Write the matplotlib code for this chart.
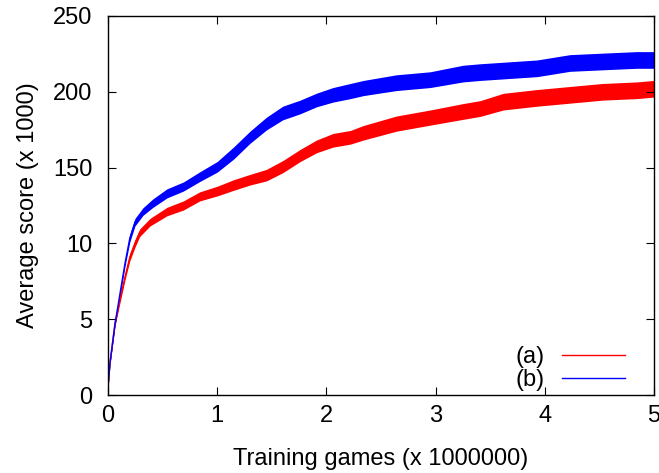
import matplotlib
matplotlib.use("Agg")
import matplotlib.pyplot as plt

plt.rcParams['font.family'] = ['Liberation Sans', 'DejaVu Sans']

# Series (a): red
games_a = [0, 0.018, 0.064, 0.11, 0.156, 0.2, 0.247, 0.29, 0.385, 0.54, 0.69, 0.84,
           1.0, 1.15, 1.30, 1.45, 1.6, 1.76, 1.91, 2.06, 2.22, 2.34, 2.64, 2.95,
           3.25, 3.41, 3.62, 3.93, 4.23, 4.53, 4.84, 5.0]
score_a = [5, 21, 47, 63, 78, 91, 100, 107, 114, 121, 125, 131,
           134.5, 138.5, 142, 145, 150.6, 158, 164, 168, 170, 173, 179, 183,
           187, 189, 193.5, 196, 198, 200, 201, 202]
spread_a = [0.5, 1, 1.5, 2, 2, 2.5, 2.5, 2.5, 2.5, 2.8, 3, 3,
            3.2, 3.5, 3.5, 3.8, 4, 4, 4.2, 4.5, 4.5, 4.8, 5, 5,
            5.2, 5.2, 5.5, 5.5, 5.5, 5.5, 5.5, 5.5]

# Series (b): blue
games_b = [0, 0.018, 0.064, 0.11, 0.156, 0.2, 0.247, 0.32, 0.41, 0.54, 0.69, 0.84,
           1.0, 1.15, 1.30, 1.45, 1.6, 1.76, 1.91, 2.06, 2.22, 2.34, 2.64, 2.95,
           3.25, 3.41, 3.62, 3.93, 4.23, 4.53, 4.84, 5.0]
score_b = [5, 21, 47, 67, 87, 103.5, 114, 121, 126.5, 133, 137.5, 144,
           150.5, 159.6, 170, 179, 186, 190, 194.6, 198, 200.5, 202.5, 206, 208,
           212, 213, 214, 215.5, 219, 220, 221, 221]
spread_b = [0.5, 1, 1.5, 2, 2, 2.5, 2.5, 2.5, 2.8, 3, 3, 3.2,
            3.5, 4, 4, 4.2, 4.5, 4.5, 4.5, 4.8, 5, 5, 5.2, 5.2,
            5.5, 5.5, 5.5, 5.5, 5.5, 5.5, 5.5, 5.5]

xticks = [0, 1, 2, 3, 4, 5]
yticks = [0, 50, 100, 150, 200, 250]
ytick_labels = ['0', '5', '10', '150', '200', '250']

FS = 17

fig = plt.figure(figsize=(6.59, 4.73), dpi=100)
ax = fig.add_axes([108/659, 1 - 395/473, (654-108)/659, (395-16)/473])

lo_a = [m - s for m, s in zip(score_a, spread_a)]
hi_a = [m + s for m, s in zip(score_a, spread_a)]
lo_b = [m - s for m, s in zip(score_b, spread_b)]
hi_b = [m + s for m, s in zip(score_b, spread_b)]

ax.fill_between(games_a, lo_a, hi_a, color='#ff0000', lw=0)
ax.plot(games_a, score_a, color='#ff0000', lw=1, label='(a)')
ax.fill_between(games_b, lo_b, hi_b, color='#0000ff', lw=0)
ax.plot(games_b, score_b, color='#0000ff', lw=1, label='(b)')

ax.set_xlim(0, 5)
ax.set_ylim(0, 250)
ax.set_xticks(xticks)
ax.set_yticks(yticks)
ax.set_yticklabels(ytick_labels)
ax.tick_params(direction='in', length=6, width=0.8, top=True, right=True,
               labelsize=FS)
ax.tick_params(axis='x', pad=7)
ax.tick_params(axis='y', pad=11)
for sp in ax.spines.values():
    sp.set_linewidth(1.0)

ax.set_xlabel('Training games (x 1000000)', fontsize=FS, labelpad=15)
ax.set_ylabel('Average score (x 1000)', fontsize=FS, labelpad=10)

leg = ax.legend(loc='lower right', frameon=False, markerfirst=False,
                fontsize=FS, handlelength=2.67, handletextpad=0.75,
                labelspacing=0.05, borderaxespad=0,
                bbox_to_anchor=(0.965, -0.015))

fig.savefig('out.png', dpi=100)
